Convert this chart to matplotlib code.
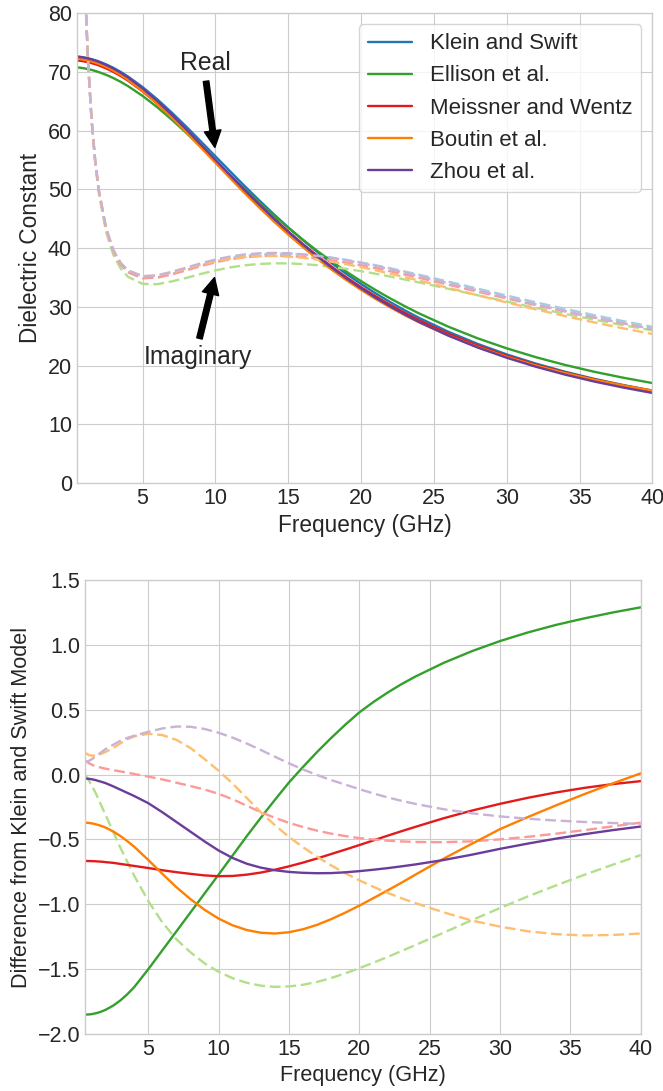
import matplotlib
matplotlib.use("Agg")
import numpy as np
import matplotlib.pyplot as plt

# Frequency grid (GHz)
freq = [0.5, 0.75, 1, 1.25, 1.5, 1.75, 2, 2.5, 3, 3.5, 4,
        5, 6, 7, 8, 9, 10, 11, 12, 13, 14, 15, 16, 17, 18, 19, 20, 21, 22, 23, 24,
        26, 28, 30, 32, 34, 36, 38, 40]

# Klein and Swift dielectric constant (real / imaginary)
ks_real = [72.64, 72.57, 72.47, 72.35, 72.19, 72.01, 71.80, 71.30, 70.71, 70.02, 69.24,
           67.44, 65.38, 63.11, 60.70, 58.19, 55.65, 53.11, 50.60, 48.16, 45.80,
           43.54, 41.39, 39.34, 37.42, 35.60, 33.90, 32.30, 30.81, 29.41, 28.10,
           25.75, 23.69, 21.90, 20.33, 18.95, 17.74, 16.68, 15.73]
ks_imag = [170.0, 114.9, 87.9, 72.1, 61.9, 54.8, 49.7, 43.2, 39.4, 37.2, 35.9,
           34.9, 35.0, 35.6, 36.3, 37.06, 37.73, 38.28, 38.68, 38.93, 39.05,
           39.04, 38.91, 38.69, 38.38, 38.00, 37.57, 37.09, 36.57, 36.02, 35.46,
           34.29, 33.10, 31.93, 30.77, 29.66, 28.59, 27.57, 26.60]

# Difference from Klein and Swift, real part
ellison_real = [-1.850, -1.849, -1.846, -1.840, -1.833, -1.823, -1.811, -1.781, -1.742, -1.694, -1.638,
                -1.500, -1.354, -1.208, -1.062, -0.916, -0.770, -0.622, -0.474, -0.332, -0.194,
                -0.060, 0.060, 0.175, 0.283, 0.385, 0.480, 0.560, 0.632, 0.698, 0.757,
                0.862, 0.952, 1.030, 1.097, 1.155, 1.205, 1.250, 1.290]
meissner_real = [-0.665, -0.666, -0.667, -0.668, -0.670, -0.672, -0.675, -0.680, -0.688, -0.696, -0.704,
                 -0.720, -0.737, -0.752, -0.765, -0.777, -0.783, -0.781, -0.771, -0.755, -0.733,
                 -0.707, -0.678, -0.646, -0.612, -0.578, -0.543, -0.507, -0.471, -0.436, -0.402,
                 -0.336, -0.277, -0.225, -0.178, -0.137, -0.102, -0.073, -0.050]
boutin_real = [-0.370, -0.372, -0.376, -0.382, -0.390, -0.399, -0.410, -0.438, -0.472, -0.512, -0.556,
               -0.658, -0.765, -0.868, -0.960, -1.042, -1.110, -1.162, -1.198, -1.219, -1.225,
               -1.215, -1.192, -1.158, -1.114, -1.064, -1.010, -0.952, -0.893, -0.833, -0.770,
               -0.647, -0.533, -0.420, -0.326, -0.236, -0.150, -0.068, 0.010]
zhou_real = [-0.030, -0.032, -0.036, -0.042, -0.050, -0.058, -0.067, -0.090, -0.115, -0.140, -0.165,
             -0.220, -0.290, -0.365, -0.440, -0.515, -0.585, -0.643, -0.687, -0.717, -0.737,
             -0.750, -0.757, -0.760, -0.759, -0.753, -0.744, -0.733, -0.721, -0.707, -0.692,
             -0.658, -0.617, -0.572, -0.531, -0.493, -0.459, -0.428, -0.400]

# Difference from Klein and Swift, imaginary part
ellison_imag = [0.000, -0.040, -0.090, -0.140, -0.200, -0.260, -0.320, -0.440, -0.560, -0.670, -0.780,
                -0.975, -1.140, -1.270, -1.370, -1.455, -1.520, -1.570, -1.605, -1.627, -1.636,
                -1.633, -1.620, -1.598, -1.568, -1.532, -1.492, -1.450, -1.406, -1.360, -1.313,
                -1.218, -1.122, -1.028, -0.938, -0.853, -0.772, -0.695, -0.620]
meissner_imag = [0.110, 0.090, 0.076, 0.066, 0.058, 0.051, 0.045, 0.035, 0.025, 0.015, 0.005,
                 -0.015, -0.037, -0.062, -0.088, -0.115, -0.148, -0.190, -0.240, -0.289, -0.333,
                 -0.372, -0.404, -0.432, -0.455, -0.474, -0.489, -0.500, -0.509, -0.515, -0.519,
                 -0.521, -0.514, -0.499, -0.479, -0.455, -0.428, -0.399, -0.370]
boutin_imag = [0.170, 0.152, 0.146, 0.148, 0.155, 0.165, 0.177, 0.205, 0.240, 0.272, 0.295,
               0.315, 0.305, 0.268, 0.205, 0.120, 0.030, -0.070, -0.180, -0.290, -0.390,
               -0.480, -0.560, -0.633, -0.700, -0.760, -0.815, -0.865, -0.911, -0.953, -0.991,
               -1.062, -1.125, -1.172, -1.208, -1.230, -1.240, -1.236, -1.225]
zhou_imag = [0.095, 0.105, 0.120, 0.140, 0.160, 0.180, 0.200, 0.230, 0.260, 0.283, 0.300,
             0.330, 0.356, 0.371, 0.369, 0.352, 0.323, 0.285, 0.240, 0.190, 0.138,
             0.087, 0.040, -0.003, -0.042, -0.077, -0.112, -0.145, -0.175, -0.202, -0.226,
             -0.267, -0.298, -0.322, -0.340, -0.354, -0.365, -0.373, -0.380]

labels = ["Klein and Swift", "Ellison et al.", "Meissner and Wentz", "Boutin et al.", "Zhou et al."]
dark = ["#1f78b4", "#33a02c", "#e31a1c", "#ff7f00", "#6a3d9a"]
light = ["#a6cee3", "#b2df8a", "#fb9a99", "#fdbf6f", "#cab2d6"]

plt.style.use("seaborn-v0_8-whitegrid")
plt.rcParams["font.family"] = ["Liberation Sans", "DejaVu Sans"]

f = np.array(freq)
ks_r = np.array(ks_real)
ks_i = np.array(ks_imag)
diff_real = [np.zeros_like(f), np.array(ellison_real), np.array(meissner_real),
             np.array(boutin_real), np.array(zhou_real)]
diff_imag = [np.zeros_like(f), np.array(ellison_imag), np.array(meissner_imag),
             np.array(boutin_imag), np.array(zhou_imag)]

LW = 1.7
DASH = (0, (4.6, 2.0))

fig = plt.figure(figsize=(6.63, 10.91), dpi=100)
ax1 = fig.add_axes([0.1161, 0.5573, 0.8680, 0.4305])
ax2 = fig.add_axes([0.1282, 0.0522, 0.8382, 0.4161])

# Top: real (solid) and imaginary (dashed) dielectric constant
for i in range(5):
    ax1.plot(f, ks_r + diff_real[i], color=dark[i], lw=LW, label=labels[i])
    ax1.plot(f, ks_i + diff_imag[i], color=light[i], lw=LW, ls=DASH)

ax1.set_xlim(0.5, 40)
ax1.set_ylim(0, 80)
ax1.set_xticks(range(5, 41, 5))
ax1.set_yticks(range(0, 81, 10))
ax1.set_xlabel("Frequency (GHz)", fontsize=16.3)
ax1.set_ylabel("Dielectric Constant", fontsize=16.3)
ax1.tick_params(labelsize=15.5)
ax1.legend(loc="upper right", frameon=True, fontsize=16)

ax1.annotate("Real", xy=(10, 56.5), xytext=(9.3, 71.6), ha="center", va="center",
             fontsize=17.8, arrowprops=dict(facecolor="black", shrink=0.05))
ax1.annotate("Imaginary", xy=(10, 35.6), xytext=(8.8, 21.5), ha="center", va="center",
             fontsize=17.8, arrowprops=dict(facecolor="black", shrink=0.05))

# Bottom: difference from Klein and Swift
for i in range(1, 5):
    ax2.plot(f, diff_real[i], color=dark[i], lw=LW)
    ax2.plot(f, diff_imag[i], color=light[i], lw=LW, ls=DASH)

ax2.set_xlim(0.5, 40)
ax2.set_ylim(-2.0, 1.5)
ax2.set_xticks(range(5, 41, 5))
ax2.set_yticks(np.arange(-2.0, 1.51, 0.5))
ax2.set_xlabel("Frequency (GHz)", fontsize=15.6)
ax2.set_ylabel("Difference from Klein and Swift Model", fontsize=15.6)
ax2.tick_params(labelsize=15.5)

fig.savefig("out.png", dpi=100)
